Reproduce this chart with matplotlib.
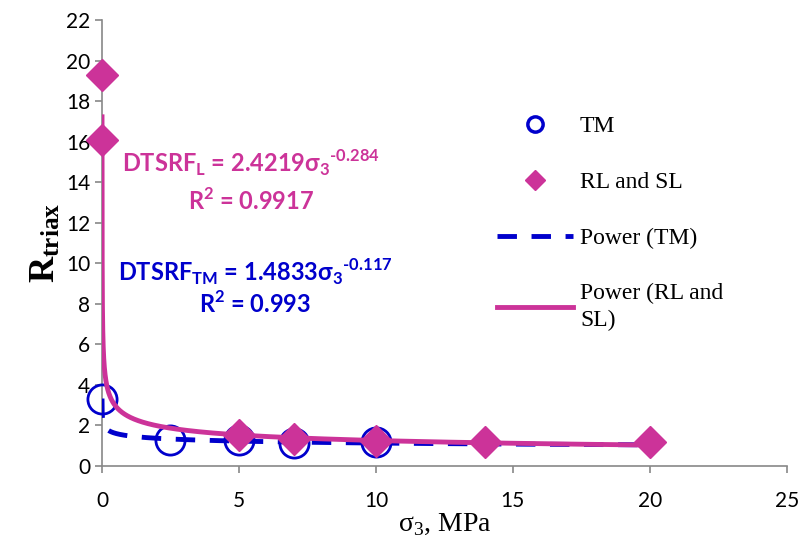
import numpy as np
import matplotlib
matplotlib.use('Agg')
import matplotlib.pyplot as plt
from matplotlib.lines import Line2D

plt.rcParams['font.family'] = ['Liberation Serif', 'DejaVu Serif']
plt.rcParams['mathtext.fontset'] = 'custom'
plt.rcParams['mathtext.rm'] = 'Liberation Serif'
plt.rcParams['mathtext.bf'] = 'Liberation Serif:bold'
plt.rcParams['mathtext.sf'] = 'Lato:bold'

# data
tm_x = [0, 2.5, 5, 7, 10]
tm_y = [3.3, 1.3, 1.3, 1.15, 1.2]
rl_x = [0, 0, 5, 7, 10, 14, 20]
rl_y = [19.3, 16.1, 1.55, 1.35, 1.25, 1.2, 1.2]

# power trendlines shown on the chart
tm_a, tm_b = 1.4833, -0.117
rl_a, rl_b = 2.4219, -0.284

blue = '#0000CC'
pink = '#CC3399'

fig = plt.figure(figsize=(8, 5.4), dpi=100)
ax = fig.add_axes([0.1275, 0.137, 0.856, 0.826])

xs = np.linspace(0.001, 20, 4000)
xs = np.concatenate([np.geomspace(0.001, 0.5, 300), xs[xs > 0.5]])
ax.plot(xs, tm_a * xs ** tm_b, color=blue, lw=3.5, ls=(0, (4, 3)), zorder=2)
ax.plot(tm_x, tm_y, 'o', ms=21, mfc='none', mec=blue, mew=2, zorder=3, clip_on=False)
ax.plot(rl_x, rl_y, 'D', ms=16, color=pink, zorder=4, clip_on=False)
ax.plot(xs, rl_a * xs ** rl_b, color=pink, lw=3.5, zorder=5)

ax.set_xlim(0, 25)
ax.set_ylim(0, 22)
ax.set_xticks(np.arange(0, 26, 5))
ax.set_yticks(np.arange(0, 23, 2))
ax.spines['top'].set_visible(False)
ax.spines['right'].set_visible(False)
for s in ['left', 'bottom']:
    ax.spines[s].set_color('#888888')
    ax.spines[s].set_linewidth(1.2)
    ax.spines[s].set_zorder(1)
ax.tick_params(colors='#888888', labelcolor='black', labelsize=15, length=5, width=1.2)
ax.tick_params(axis='x', pad=13)
for lab in ax.get_xticklabels() + ax.get_yticklabels():
    lab.set_family(['Lato', 'DejaVu Sans'])

ax.set_ylabel(r'$\mathbf{R_{triax}}$', fontsize=26, labelpad=2)
ax.set_xlabel(r'σ$_\mathrm{3}$, MPa', fontsize=20, labelpad=0)

eq = ['Lato', 'DejaVu Sans']
ax.text(5.45, 14.95, r'DTSRF$_\mathsf{L}$ = 2.4219σ$_\mathsf{3}$$^\mathsf{‐0.284}$', color=pink,
        fontsize=17, fontweight='bold', family=eq, ha='center', va='center')
ax.text(5.45, 13.1, r'R$^\mathsf{2}$ = 0.9917', color=pink,
        fontsize=17, fontweight='bold', family=eq, ha='center', va='center')
ax.text(5.6, 9.6, r'DTSRF$_\mathsf{TM}$ = 1.4833σ$_\mathsf{3}$$^\mathsf{‐0.117}$', color=blue,
        fontsize=17, fontweight='bold', family=eq, ha='center', va='center')
ax.text(5.6, 8.0, r'R$^\mathsf{2}$ = 0.993', color=blue,
        fontsize=17, fontweight='bold', family=eq, ha='center', va='center')

handles = [
    Line2D([], [], ls='none', marker='o', ms=11, mfc='none', mec=blue, mew=2.5),
    Line2D([], [], ls='none', marker='D', ms=10, color=pink),
    Line2D([], [], color=blue, lw=3.5, ls=(0, (4, 3))),
    Line2D([], [], color=pink, lw=3.5),
]
labels = ['TM', 'RL and SL', 'Power (TM)', 'Power (RL and\nSL)']
leg = fig.legend(handles, labels, loc='upper left', bbox_to_anchor=(0.595, 0.825), frameon=False,
                 fontsize=17, handlelength=3.2, handletextpad=0.3, labelspacing=1.45)
for t in leg.get_texts():
    t.set_linespacing(1.35)

fig.savefig('out.png', dpi=100)
